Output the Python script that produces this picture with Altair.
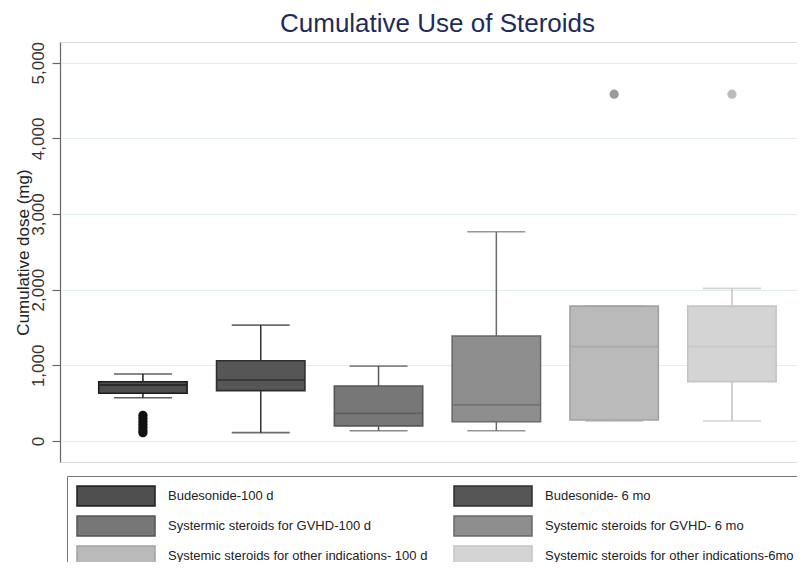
import altair as alt
import pandas as pd

groups = [
    "Budesonide-100 d",
    "Budesonide- 6 mo",
    "Systermic steroids for GVHD-100 d",
    "Systemic steroids for GVHD- 6 mo",
    "Systemic steroids for other indications- 100 d",
    "Systemic steroids for other indications-6mo",
]
q1 = [630, 665, 200, 255, 277, 784]
median = [740, 806, 365, 476, 1246, 1246]
q3 = [783, 1061, 727, 1387, 1783, 1783]
whisker_lo = [572, 110, 136, 136, 264, 264]
whisker_hi = [885, 1532, 990, 2765, 1783, 2017]

outlier_group = [groups[0]] * 7 + [groups[4], groups[5]]
outlier_value = [340, 300, 260, 220, 180, 140, 110, 4584, 4584]

fill_colors = ["#4f4f4f", "#565656", "#777777", "#8e8e8e", "#bababa", "#d4d4d4"]
stroke_colors = ["#1c1c1c", "#2e2e2e", "#565656", "#6a6a6a", "#a2a2a2", "#c3c3c3"]
outlier_colors = ["#111111", "#111111", "#777777", "#888888", "#9a9a9a", "#bcbcbc"]

FONT = "Liberation Sans"

df = pd.DataFrame({
    "group": groups, "q1": q1, "median": median, "q3": q3,
    "lo": whisker_lo, "hi": whisker_hi, "scol": stroke_colors,
})
odf = pd.DataFrame({"group": outlier_group, "value": outlier_value})
odf["ocol"] = odf["group"].map(dict(zip(groups, outlier_colors)))

xenc = alt.X("group:N", sort=groups, axis=None,
             scale=alt.Scale(paddingInner=0.25, paddingOuter=0.253, align=0.65))
yscale = alt.Scale(domain=[-278, 5274], nice=False, zero=False)
yaxis = alt.Axis(
    values=[0, 1000, 2000, 3000, 4000, 5000], format=",.0f",
    title="Cumulative dose (mg)", grid=True, gridColor="#e2ebf0", gridWidth=1.2,
    domainColor="#666666", domainWidth=1.2, tickColor="#666666", tickSize=8, tickWidth=1.2,
    labelAngle=270, labelAlign="center", labelBaseline="alphabetic", labelPadding=9,
    labelFont=FONT, labelFontSize=17, labelColor="#333333",
    titleFont=FONT, titleFontSize=17, titleFontWeight="normal", titleColor="#222222",
    titleAngle=270, titleBaseline="alphabetic", titleX=-32, titleY=210, titleAlign="center",
)

base = alt.Chart(df)

whiskers = base.mark_rule(strokeWidth=1.5).encode(
    x=xenc,
    y=alt.Y("lo:Q", scale=yscale, axis=yaxis),
    y2="hi:Q",
    color=alt.Color("scol:N", scale=None),
)

caps_lo = base.mark_tick(size=58, thickness=1.6).encode(
    x=xenc, y=alt.Y("lo:Q", scale=yscale), color=alt.Color("scol:N", scale=None))
caps_hi = base.mark_tick(size=58, thickness=1.6).encode(
    x=xenc, y=alt.Y("hi:Q", scale=yscale), color=alt.Color("scol:N", scale=None))

legend = alt.Legend(
    title=None, orient="none", legendX=7, legendY=434, columns=2, direction="horizontal",
    symbolType="M-3.9,-1L3.9,-1L3.9,1L-3.9,1Z", symbolSize=400, symbolOffset=29,
    symbolStrokeWidth=1.5, symbolOpacity=1,
    labelFont=FONT, labelFontSize=13, labelColor="#222222", labelOffset=41, labelLimit=400,
    columnPadding=23, rowPadding=4, padding=9,
    strokeColor="#777777", fillColor="#ffffff",
)

boxes = base.mark_bar(strokeWidth=1.6, opacity=1).encode(
    x=xenc,
    y=alt.Y("q1:Q", scale=yscale),
    y2="q3:Q",
    fill=alt.Fill("group:N", sort=groups,
                  scale=alt.Scale(domain=groups, range=fill_colors), legend=legend),
    stroke=alt.Stroke("group:N", sort=groups,
                      scale=alt.Scale(domain=groups, range=stroke_colors), legend=legend),
)

medians = base.mark_tick(size=87, thickness=1.8).encode(
    x=xenc, y=alt.Y("median:Q", scale=yscale), color=alt.Color("scol:N", scale=None))

outliers = alt.Chart(odf).mark_circle(size=85, opacity=1).encode(
    x=xenc, y=alt.Y("value:Q", scale=yscale), color=alt.Color("ocol:N", scale=None))

chart = alt.layer(whiskers, caps_lo, caps_hi, boxes, medians, outliers).properties(
    width=737, height=420,
    title=alt.TitleParams("Cumulative Use of Steroids", font=FONT, fontSize=26,
                          fontWeight="normal", color="#1f2b5b", anchor="middle", dx=9),
    autosize=alt.AutoSizeParams(type="none"),
    padding={"left": 52, "top": 34, "right": 0, "bottom": 100},
).configure_view(stroke=None).configure(background="white")

chart.save("out.html", embed_options={"renderer": "svg", "actions": False})
